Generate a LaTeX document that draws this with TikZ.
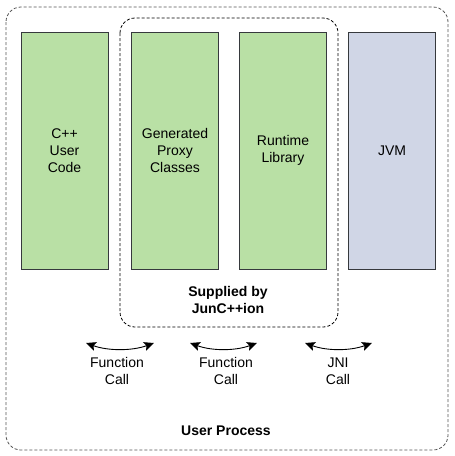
\documentclass[tikz,border=0pt]{standalone}
\usepackage{fontspec}
\setmainfont{Liberation Sans}
\usetikzlibrary{arrows.meta}
\definecolor{boxgreen}{HTML}{B9E0A5}
\definecolor{boxblue}{HTML}{D0D6E6}
\definecolor{boxline}{HTML}{36393D}
\definecolor{outerdash}{HTML}{555555}
\tikzset{
  comp/.style={draw=boxline, line width=0.9pt, minimum width=87pt, minimum height=237pt, align=center, inner sep=0pt, font=\fontsize{14}{16.8}\selectfont},
  greenbox/.style={comp, fill=boxgreen},
  bluebox/.style={comp, fill=boxblue},
  grp/.style={draw, line width=0.8pt, dash pattern=on 3pt off 2pt, rounded corners=15pt},
  lbl/.style={align=center, font=\fontsize{14}{16.8}\selectfont, inner sep=0pt},
  blbl/.style={align=center, font=\fontsize{14}{16.8}\selectfont\bfseries, inner sep=0pt},
  callarrow/.style={line width=0.9pt, {Stealth[length=10pt,width=9pt,inset=2pt]}-{Stealth[length=10pt,width=9pt,inset=2pt]}}
}
\begin{document}
\begin{tikzpicture}[x=1pt,y=-1pt]
\useasboundingbox (0,0) rectangle (455,456);
\fill[white] (0,0) rectangle (455,456);
% groups
\draw[grp, draw=outerdash] (6,7) rectangle (448,450);
\draw[grp, draw=black] (120,18) rectangle (338,327);
% components
\node[greenbox] (cpp) at (64.5,150.5) {C++\\User\\Code};
\node[greenbox] (proxy) at (175,150.5) {Generated\\Proxy\\Classes};
\node[greenbox] (rt) at (283,150.5) {Runtime\\Library};
\node[bluebox] (jvm) at (392,150.5) {JVM};
% group labels
\node[blbl] (supplied) at (228,300) {Supplied by\\JunC++ion};
\node[blbl] (userproc) at (226,431) {User Process};
% call arrows
\coordinate (a1l) at (86,343);
\coordinate (a1r) at (154,343);
\coordinate (a2l) at (190,343);
\coordinate (a2r) at (257,343);
\coordinate (a3l) at (305,343);
\coordinate (a3r) at (372,343);
\draw[callarrow] (a1l) .. controls +(22,8) and +(-22,8) .. (a1r);
\draw[callarrow] (a2l) .. controls +(22,8) and +(-22,8) .. (a2r);
\draw[callarrow] (a3l) .. controls +(22,8) and +(-22,8) .. (a3r);
\node[lbl] (c1) at (117,371) {Function\\Call};
\node[lbl] (c2) at (226,371) {Function\\Call};
\node[lbl] (c3) at (338,371) {JNI\\Call};
\end{tikzpicture}
\end{document}
